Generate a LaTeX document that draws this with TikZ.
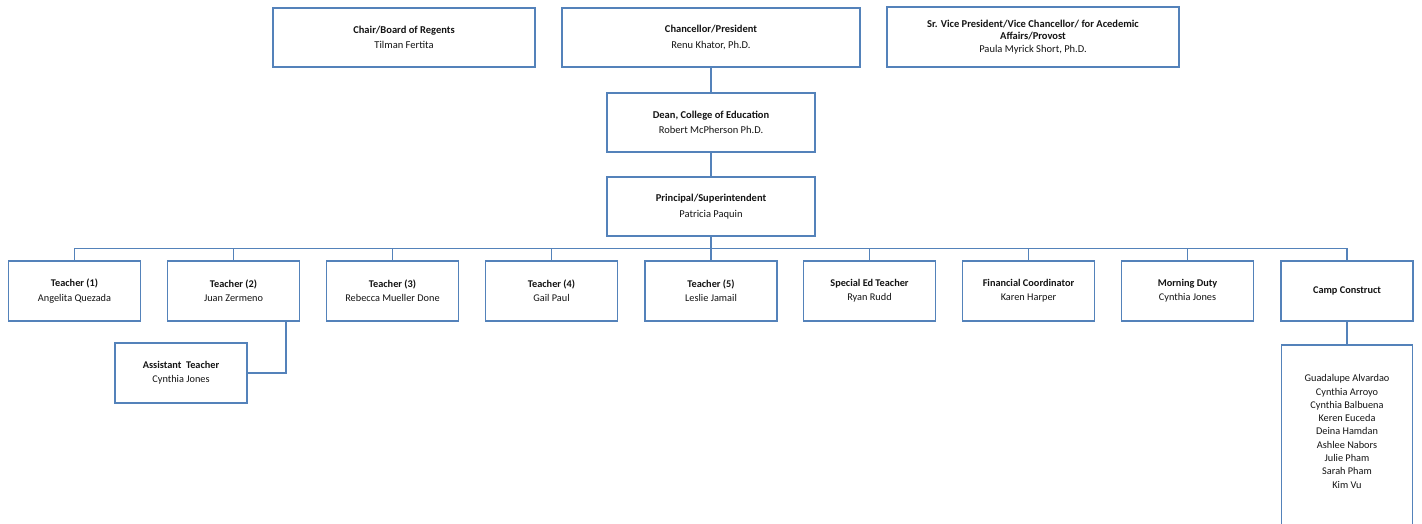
\documentclass[tikz,border=0pt]{standalone}
\usepackage{fontspec}
\setmainfont{Carlito}
\definecolor{bline}{RGB}{84,130,186}
\definecolor{txt}{RGB}{20,20,20}
\begin{document}
\begin{tikzpicture}[x=1pt,y=-1pt,
  orgbox/.style={draw=bline,line width=1.3pt,fill=white,inner sep=0pt,align=center,text=txt},
  topbox/.style={orgbox,font=\fontsize{10.5}{15.5}\selectfont},
  rowbox/.style={orgbox,minimum width=132pt,minimum height=60pt,font=\fontsize{10.3}{14.3}\selectfont},
  conn/.style={draw=bline,line width=1.3pt}]
\useasboundingbox (0,0) rectangle (1422,523);
\clip (0,0) rectangle (1422,523);
\node[topbox,minimum width=262pt,minimum height=59pt] (chair) at (404,37.5) {\textbf{Chair/Board of Regents}\\Tilman Fertita};
\node[topbox,minimum width=298pt,minimum height=59pt] (chan) at (711,37.5) {\textbf{Chancellor/President}\\Renu Khator, Ph.D.};
\node[topbox,minimum width=292pt,minimum height=60pt,font=\fontsize{10.5}{12}\selectfont] (svp) at (1033,37) {\\[-5pt]\textbf{Sr. Vice President/Vice Chancellor/ for Acedemic}\\\textbf{Affairs/Provost}\\[1pt]Paula Myrick Short, Ph.D.};
\node[topbox,minimum width=208pt,minimum height=59pt] (dean) at (711,122.5) {\textbf{Dean, College of Education}\\Robert McPherson Ph.D.};
\node[topbox,minimum width=208pt,minimum height=59pt] (prin) at (711,206.5) {\textbf{Principal/Superintendent}\\Patricia Paquin};
\node[rowbox] (t1) at (74.5,291) {\textbf{Teacher (1)}\\Angelita Quezada};
\node[rowbox] (t2) at (233.5,291) {\textbf{Teacher (2)}\\Juan Zermeno};
\node[rowbox] (t3) at (392.5,291) {\textbf{Teacher (3)}\\Rebecca Mueller Done};
\node[rowbox] (t4) at (551.5,291) {\textbf{Teacher (4)}\\Gail Paul};
\node[rowbox] (t5) at (711,291) {\textbf{Teacher (5)}\\Leslie Jamail};
\node[rowbox] (sp) at (869.5,291) {\textbf{Special Ed Teacher}\\Ryan Rudd};
\node[rowbox] (fin) at (1028.5,291) {\textbf{Financial Coordinator}\\Karen Harper};
\node[rowbox] (morn) at (1187.5,291) {\textbf{Morning Duty}\\Cynthia Jones};
\node[rowbox] (camp) at (1347,291) {\textbf{Camp Construct}};
\node[rowbox] (asst) at (181,373) {\textbf{Assistant\ \ Teacher}\\Cynthia Jones};
\node[rowbox,minimum width=131pt,minimum height=190pt,font=\fontsize{10.3}{13.3}\selectfont] (list) at (1347,440) {Guadalupe Alvardao\\Cynthia Arroyo\\Cynthia Balbuena\\Keren Euceda\\Deina Hamdan\\Ashlee Nabors\\Julie Pham\\Sarah Pham\\Kim Vu\\[4pt]};
\draw[conn] (chan.south) -- (dean.north);
\draw[conn] (dean.south) -- (prin.north);
\draw[conn] (prin.south) -- ++(0,12) coordinate (bus);
\foreach \c in {t1,t2,t3,t4,t5,sp,fin,morn,camp} \draw[conn] (bus) -| (\c.north);
\draw[conn] ([xshift=52.5pt]t2.south) |- (asst.east);
\draw[conn] (camp.south) -- (list.north);
\end{tikzpicture}
\end{document}
